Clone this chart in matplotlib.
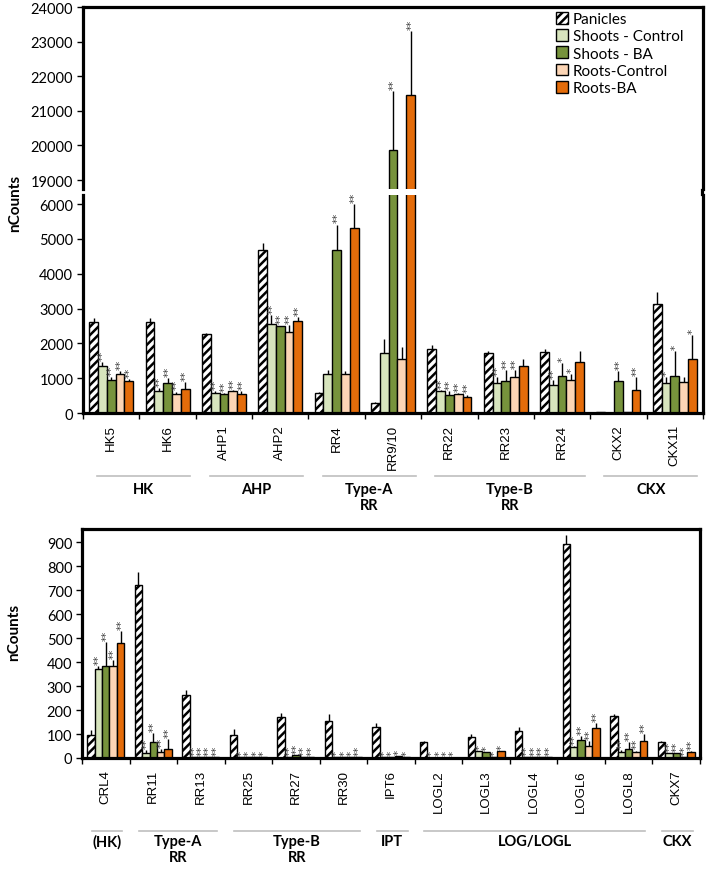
import matplotlib
matplotlib.use("Agg")
import matplotlib.pyplot as plt
import matplotlib.transforms as mtransforms
from matplotlib.lines import Line2D
import numpy as np

# ---------------- data ----------------
series = ["Panicles", "Shoots - Control", "Shoots - BA", "Roots-Control", "Roots-BA"]
colors = ["white", "#d7e4bd", "#77933c", "#fcd5b5", "#e46c0a"]

top_genes = ["HK5", "HK6", "AHP1", "AHP2", "RR4", "RR9/10", "RR22", "RR23", "RR24", "CKX2", "CKX11"]
top_pan = [2620, 2620, 2280, 4690, 580, 300, 1850, 1710, 1740, 40, 3130]
top_pan_err = [100, 100, 30, 180, 30, 20, 100, 60, 110, 0, 330]
top_sc = [1350, 620, 575, 2555, 1120, 1710, 620, 850, 810, 10, 850]
top_sc_err = [100, 95, 65, 260, 115, 410, 40, 190, 145, 0, 170]
top_sba = [960, 850, 545, 2490, 4680, 19880, 530, 930, 1050, 930, 1070]
top_sba_err = [85, 155, 40, 20, 730, 1700, 110, 305, 380, 270, 700]
top_rc = [1120, 545, 620, 2316, 1130, 1540, 535, 1045, 955, 15, 880]
top_rc_err = [90, 70, 50, 210, 85, 345, 30, 190, 165, 0, 145]
top_rba = [930, 690, 545, 2630, 5300, 21450, 460, 1360, 1470, 660, 1550]
top_rba_err = [50, 190, 75, 115, 700, 1850, 70, 190, 300, 365, 690]
top_stars_sc = ["**", "**", "**", "**", "", "", "**", "**", "**", "", "*"]
top_stars_sba = ["**", "**", "**", "**", "**", "**", "**", "**", "*", "**", "*"]
top_stars_rc = ["**", "**", "**", "**", "", "", "**", "**", "*", "", ""]
top_stars_rba = ["**", "**", "**", "**", "**", "**", "**", "", "", "**", "*"]
top_groups = ["HK", "AHP", "Type-A\nRR", "Type-B\nRR", "CKX"]
top_group_sizes = [2, 2, 2, 3, 2]

bot_genes = ["CRL4", "RR11", "RR13", "RR25", "RR27", "RR30", "IPT6",
             "LOGL2", "LOGL3", "LOGL4", "LOGL6", "LOGL8", "CKX7"]
bot_pan = [95, 722, 262, 97, 172, 153, 131, 65, 89, 112, 892, 174, 65]
bot_pan_err = [20, 52, 21, 24, 15, 30, 15, 5, 11, 19, 40, 9, 5]
bot_sc = [370, 19, 5, 3, 5, 3, 3, 2, 28, 3, 44, 26, 21]
bot_sc_err = [14, 16, 0, 0, 0, 0, 0, 0, 0, 0, 7, 9, 0]
bot_sba = [385, 68, 5, 3, 12, 3, 3, 2, 24, 3, 75, 37, 21]
bot_sba_err = [100, 36, 0, 0, 2, 0, 0, 0, 0, 0, 18, 31, 0]
bot_rc = [385, 26, 5, 3, 5, 3, 10, 2, 5, 3, 51, 24, 5]
bot_rc_err = [25, 11, 0, 0, 0, 0, 0, 0, 0, 0, 21, 7, 0]
bot_rba = [479, 37, 5, 3, 5, 3, 3, 2, 28, 3, 124, 69, 26]
bot_rba_err = [49, 42, 0, 0, 0, 0, 0, 0, 0, 0, 22, 31, 4]
bot_stars_sc = ["**", "**", "**", "*", "**", "*", "*", "*", "*", "**", "**", "**", "**"]
bot_stars_sba = ["**", "**", "**", "*", "**", "*", "*", "*", "*", "**", "**", "**", "**"]
bot_stars_rc = ["**", "**", "**", "*", "**", "*", "*", "*", "*", "**", "**", "**", "**"]
bot_stars_rba = ["**", "**", "**", "*", "**", "**", "*", "*", "*", "**", "**", "**", "**"]
bot_groups = ["(HK)", "Type-A\nRR", "Type-B\nRR", "IPT", "LOG/LOGL", "CKX"]
bot_group_sizes = [1, 2, 3, 1, 5, 1]

# ---------------- style ----------------
plt.rcParams["font.family"] = ["Lato", "DejaVu Sans"]
plt.rcParams["hatch.linewidth"] = 1.8
SPINE_W = 2.3
BAR_W = 0.156
NUM_FS = 10.5
CAT_FS = 9.5
GRP_FS = 10.5
STAR_FS = 7.5

W, H = 711, 870
fig = plt.figure(figsize=(W / 100, H / 100), dpi=100)


def fx(px):
    return px / W


def fy(py):
    return 1 - py / H


ax_up = fig.add_axes([fx(83), fy(190), fx(703) - fx(83), fy(8) - fy(190)])
ax_lo = fig.add_axes([fx(83), fy(414), fx(703) - fx(83), fy(196) - fy(414)])
ax_b = fig.add_axes([fx(82), fy(759), fx(700) - fx(82), fy(530) - fy(759)])

ax_up.set_ylim(18740, 24000)
ax_lo.set_ylim(0, 6259)
ax_b.set_ylim(0, 955)


def draw_bars(axes_list, vals, errs, stars):
    n = len(vals[0])
    x = np.arange(n)
    handles = []
    for ax in axes_list:
        ax.set_xlim(-0.5, n - 0.5)
        for j in range(5):
            xs = x + (j - 2) * BAR_W
            b = ax.bar(xs, vals[j], BAR_W, color=colors[j], edgecolor="black",
                       linewidth=1.0, hatch="////" if j == 0 else None,
                       label=series[j], zorder=2)
            if ax is axes_list[0]:
                handles.append(b)
            tops = np.array(vals[j]) + np.array(errs[j])
            ax.vlines(xs, vals[j], tops, color="black", linewidth=1.0, zorder=3)
    # stars
    for j in range(1, 5):
        xs = x + (j - 2) * BAR_W
        tops = np.array(vals[j]) + np.array(errs[j])
        for i in range(n):
            s = stars[j - 1][i]
            if not s:
                continue
            target = axes_list[-1]
            for ax in axes_list:
                lo, hi = ax.get_ylim()
                if lo <= tops[i] <= hi:
                    target = ax
            target.annotate(s, (xs[i], tops[i]), xytext=(0.6, 1.5),
                            textcoords="offset points", rotation=90,
                            ha="center", va="bottom", fontsize=STAR_FS,
                            color="#404040", family="DejaVu Sans",
                            annotation_clip=False)
    return handles


top_vals = [top_pan, top_sc, top_sba, top_rc, top_rba]
top_errs = [top_pan_err, top_sc_err, top_sba_err, top_rc_err, top_rba_err]
top_star = [top_stars_sc, top_stars_sba, top_stars_rc, top_stars_rba]
handles = draw_bars([ax_up, ax_lo], top_vals, top_errs, top_star)

bot_vals = [bot_pan, bot_sc, bot_sba, bot_rc, bot_rba]
bot_errs = [bot_pan_err, bot_sc_err, bot_sba_err, bot_rc_err, bot_rba_err]
bot_star = [bot_stars_sc, bot_stars_sba, bot_stars_rc, bot_stars_rba]
draw_bars([ax_b], bot_vals, bot_errs, bot_star)


def style_axis(ax, genes, yticks):
    for s in ax.spines.values():
        s.set_linewidth(SPINE_W)
        s.set_color("black")
    ax.set_yticks(yticks)
    ax.set_yticklabels([str(v) for v in yticks], fontsize=NUM_FS)
    ax.tick_params(axis="y", length=4, width=1, direction="out", pad=3)
    if genes is None:
        ax.set_xticks([])
        return
    n = len(genes)
    ax.set_xticks(np.arange(n))
    ax.set_xticklabels(genes, rotation=90, fontsize=CAT_FS,
                       family="Liberation Sans")
    ax.set_xticks(np.arange(n + 1) - 0.5, minor=True)
    ax.tick_params(axis="x", which="major", length=0, pad=8)
    ax.tick_params(axis="x", which="minor", length=4, width=1, direction="out")


style_axis(ax_up, None, list(range(19000, 24001, 1000)))
ax_up.spines["bottom"].set_visible(False)
style_axis(ax_lo, top_genes, list(range(0, 6001, 1000)))
ax_lo.spines["top"].set_visible(False)
style_axis(ax_b, bot_genes, list(range(0, 901, 100)))

# continuous right spine across break
fig.add_artist(Line2D([fx(703) - 0.0012, fx(703) - 0.0012], [fy(191), fy(195)],
                      color="black", linewidth=SPINE_W, transform=fig.transFigure))


def draw_groups(ax, groups, sizes, y_line, y_text, inset_l, inset_r):
    trans = mtransforms.blended_transform_factory(ax.transData, fig.transFigure)
    start = 0
    for g, sz in zip(groups, sizes):
        x0 = start - 0.5 + inset_l
        x1 = start + sz - 0.5 - inset_r
        ax.plot([x0, x1], [fy(y_line), fy(y_line)], color="#bfbfbf",
                linewidth=1.2, transform=trans, clip_on=False)
        ax.text((x0 + x1) / 2, fy(y_text), g, transform=trans, ha="center",
                va="top", fontsize=GRP_FS, fontweight="bold", linespacing=1.15)
        start += sz


draw_groups(ax_lo, top_groups, top_group_sizes, 477, 483, 0.25, 0.1)
draw_groups(ax_b, bot_groups, bot_group_sizes, 832, 835, 0.2, 0.15)

# y labels
fig.text(fx(15), fy(203), "nCounts", rotation=90, ha="center", va="center",
         fontsize=11, fontweight="bold")
fig.text(fx(14), fy(632), "nCounts", rotation=90, ha="center", va="center",
         fontsize=11, fontweight="bold")

# legend
fig.legend(handles=handles, labels=series, loc="upper left",
           bbox_to_anchor=(fx(556), fy(13)), frameon=False, fontsize=11,
           handlelength=0.8, handleheight=0.8, handletextpad=0.3,
           labelspacing=0.2, borderpad=0, borderaxespad=0)

fig.savefig("out.png", dpi=100)
